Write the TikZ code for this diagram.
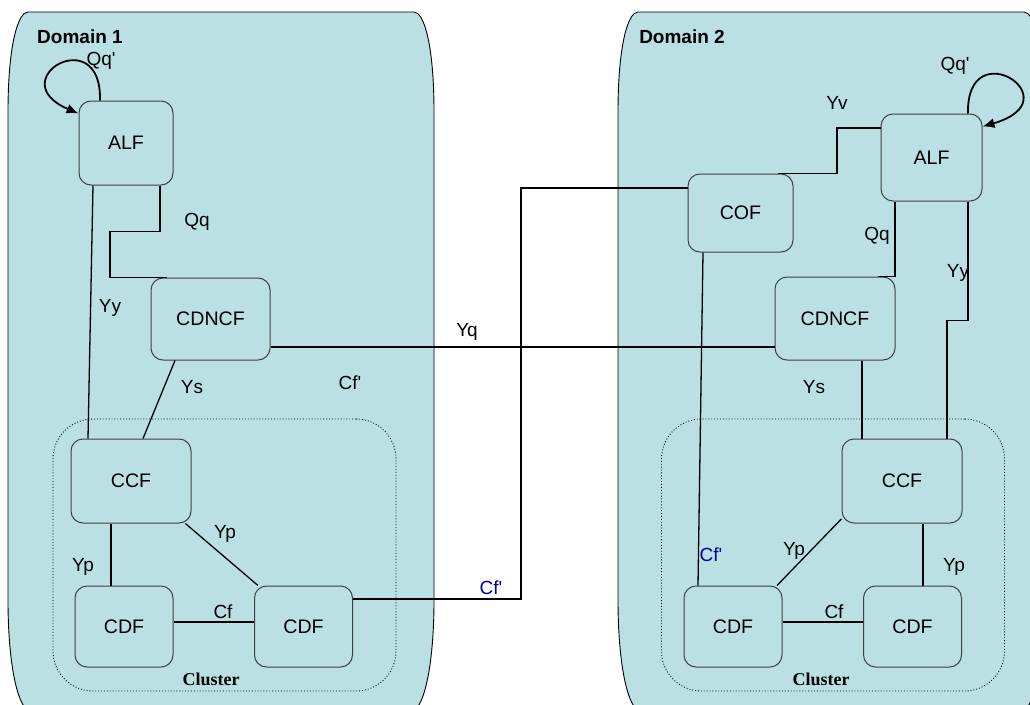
\documentclass[tikz,border=0pt]{standalone}
\usepackage{fontspec}
\setmainfont{Liberation Sans}[Ligatures=TeXOff]
\newfontfamily\clusterserif{Liberation Serif}
\usetikzlibrary{arrows.meta}
\definecolor{domainfill}{RGB}{186,224,227}
\definecolor{boxline}{RGB}{64,64,64}
\definecolor{cfblue}{RGB}{0,0,150}
\begin{document}
\begin{tikzpicture}[
        x=1pt, y=-1pt,
        every node/.style={font=\fontsize{19}{23}\selectfont},
        domainbg/.style={draw=black, line width=0.9pt, fill=domainfill},
        func/.style={draw=boxline, line width=1pt, rounded corners=12pt, fill=domainfill, minimum width=98pt, minimum height=81pt, inner sep=0pt, font=\fontsize{19.6}{23}\selectfont},
        widefunc/.style={func, minimum width=120pt, minimum height=83pt},
        cluster/.style={draw, dotted, line width=0.9pt, rounded corners=40pt, minimum width=343pt, minimum height=272pt},
        conn/.style={line width=1.3pt},
        selfloop/.style={line width=1.8pt, -{Latex[length=12pt,width=10pt]}},
        lbl/.style={inner sep=0pt},
        bluelbl/.style={lbl, text=cfblue},
        domaintitle/.style={lbl, font=\fontsize{19}{23}\selectfont\bfseries},
        clustertitle/.style={lbl, font=\fontsize{18}{22}\selectfont\clusterserif\bfseries}
    ]
        \clip (0,0) rectangle (1030,704);
        \path[domainbg] (8,612) -- (8,112) .. controls (8,45) and (18,12) .. (28,12) -- (414,12) .. controls (424,12) and (434,45) .. (434,112) -- (434,600) .. controls (434,665) and (424,712) .. (410,712) -- (32,712) .. controls (18,712) and (8,665) .. (8,600) -- cycle;
        \path[domainbg] (618,612) -- (618,112) .. controls (618,45) and (628,12) .. (638,12) -- (1024,12) .. controls (1034,12) and (1044,45) .. (1044,112) -- (1044,600) .. controls (1044,665) and (1034,712) .. (1020,712) -- (642,712) .. controls (628,712) and (618,665) .. (618,600) -- cycle;
        \node[domaintitle] (domA) at (80,37) {Domain 1};
        \node[domaintitle] (domB) at (682,37) {Domain 2};

        \node[cluster] (clusterA) at (224.5,555) {};
        \node[cluster] (clusterB) at (833,555) {};
        \node[clustertitle] (clusterlblA) at (211,679) {Cluster};
        \node[clustertitle] (clusterlblB) at (821,679) {Cluster};

        \node[func, minimum width=94pt, minimum height=84pt] (alfA) at (126,143) {ALF};
        \node[widefunc, minimum width=119pt, minimum height=82pt] (cdncfA) at (210.5,319) {CDNCF};
        \node[widefunc, minimum height=84pt] (ccfA) at (131,481) {CCF};
        \node[func] (cdfA1) at (124,626.5) {CDF};
        \node[func] (cdfA2) at (303.5,626.5) {CDF};

        \node[func, minimum width=101pt, minimum height=87pt] (alfB) at (931.5,157.5) {ALF};
        \node[func, minimum width=105pt, minimum height=78pt] (cofB) at (740.5,213) {COF};
        \node[widefunc] (cdncfB) at (835,318.5) {CDNCF};
        \node[widefunc, minimum height=84pt] (ccfB) at (902,481) {CCF};
        \node[func] (cdfB1) at (733,626.5) {CDF};
        \node[func] (cdfB2) at (912.5,626.5) {CDF};

        \draw[selfloop] ([xshift=-26pt]alfA.north) .. controls (102,20) and (0,80) .. ([yshift=-13pt]alfA.north west);
        \draw[conn] ([xshift=34pt]alfA.south) -- ++(0,46) -| (110,250) |- ([xshift=-43.5pt]cdncfA.north);
        \draw[conn] ([xshift=-33pt]alfA.south) -- ([xshift=-43pt]ccfA.north);
        \draw[conn] ([xshift=-35.5pt]cdncfA.south) -- ([xshift=12pt]ccfA.north);
        \draw[conn] ([xshift=-20pt]ccfA.south) -- ([xshift=-13pt]cdfA1.north);
        \draw[conn] (ccfA.-38) -- (cdfA2.138);
        \draw[conn] ([yshift=4.5pt]cdfA1.east) -- ([yshift=4.5pt]cdfA2.west);
        \draw[conn] ([yshift=-28pt]cdncfA.east) -- ([yshift=-28.5pt]cdncfB.west);
        \draw[conn] ([yshift=27.5pt]cdfA2.east) -| (521,400) |- ([yshift=25pt]cofB.west);

        \draw[selfloop] ([xshift=36.5pt]alfB.north) .. controls (966,30) and (1075,100) .. ([yshift=-13pt]alfB.north east);
        \draw[conn] ([yshift=29.5pt]alfB.west) -| (837,150) |- ([xshift=37.5pt]cofB.north);
        \draw[conn] ([xshift=-36.5pt]alfB.south) |- ([xshift=43pt]cdncfB.north);
        \draw[conn] ([xshift=36.5pt]alfB.south) -- ++(0,119) -| ([xshift=45pt]ccfB.north);
        \draw[conn] ([xshift=27pt]cdncfB.south) -- ([xshift=-40pt]ccfB.north);
        \draw[conn] ([xshift=-37.5pt]cofB.south) -- ([xshift=-35pt]cdfB1.north);
        \draw[conn] (ccfB.212) -- (cdfB1.43);
        \draw[conn] ([xshift=21pt]ccfB.south) -- ([xshift=10.5pt]cdfB2.north);
        \draw[conn] ([yshift=4.5pt]cdfB1.east) -- ([yshift=4.5pt]cdfB2.west);

        \node[lbl] (qqpA) at (101,61) {Qq'};
        \node[lbl] (qqA) at (197,222) {Qq};
        \node[lbl] (yyA) at (110,308) {Yy};
        \node[lbl] (ysA) at (192,387) {Ys};
        \node[lbl] (cfpA) at (350,383) {Cf'};
        \node[lbl] (ypA1) at (83,567) {Yp};
        \node[lbl] (ypA2) at (225,534) {Yp};
        \node[lbl] (cfA) at (223,612) {Cf};
        \node[lbl] (yq) at (467,332) {Yq};
        \node[bluelbl] (cfplink) at (491,588) {Cf'};
        \node[lbl] (qqpB) at (955,66) {Qq'};
        \node[lbl] (yv) at (837,103) {Yv};
        \node[lbl] (qqB) at (877,236) {Qq};
        \node[lbl] (yyB) at (958,273) {Yy};
        \node[lbl] (ysB) at (814,387) {Ys};
        \node[bluelbl] (cfpB) at (711,555) {Cf'};
        \node[lbl] (ypB1) at (794,551) {Yp};
        \node[lbl] (ypB2) at (954,567) {Yp};
        \node[lbl] (cfB) at (834,612) {Cf};
    \end{tikzpicture}
\end{document}
